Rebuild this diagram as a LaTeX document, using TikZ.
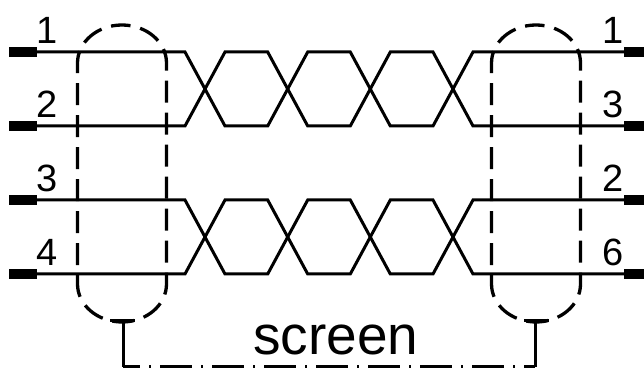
\documentclass[tikz,border=0pt]{standalone}
\usepackage{fontspec}
\setmainfont{Liberation Sans}
\begin{document}
\begin{tikzpicture}[x=1pt,y=1pt,
  wire/.style={line width=3pt,line join=miter},
  term/.style={line width=10.5pt},
  shield/.style={line width=3.3pt,dash pattern=on 22pt off 10pt,dash phase=11pt},
  screenline/.style={line width=3pt,dash pattern=on 32pt off 9pt on 2pt off 9pt,dash phase=15pt},
  bracket/.style={line width=3pt},
  pin/.style={font=\fontsize{38}{38}\selectfont,inner sep=0pt,anchor=base west},
  screenlbl/.style={font=\fontsize{55}{55}\selectfont,inner sep=0pt,anchor=base},
]
\useasboundingbox (0,0) rectangle (644,371);

% wire levels
\def\ya{319}\def\yb{245}\def\yc{171}\def\yd{97}

% terminal stubs
\foreach \y/\n in {\ya/1,\yb/2,\yc/3,\yd/4}{
  \coordinate (TL\n) at (9,\y);
  \coordinate (L\n) at (37,\y);
  \coordinate (R\n) at (624,\y);
  \coordinate (TR\n) at (646,\y);
  \draw[term] (TL\n) -- (L\n);
  \draw[term] (R\n) -- (TR\n);
}

% twisted pairs
\foreach \top/\bot/\a/\b in {\ya/\yb/1/2,\yc/\yd/3/4}{
  \draw[wire] (L\a) -- (185,\top) -- (225,\bot) -- (267.7,\bot) -- (307.7,\top)
     -- (350.3,\top) -- (390.3,\bot) -- (433,\bot) -- (473,\top) -- (R\a);
  \draw[wire] (L\b) -- (185,\bot) -- (225,\top) -- (267.7,\top) -- (307.7,\bot)
     -- (350.3,\bot) -- (390.3,\top) -- (433,\top) -- (473,\bot) -- (R\b);
}

% pin labels
\node[pin] (pl1) at (36,327) {1};
\node[pin] (pl2) at (36,253) {2};
\node[pin] (pl3) at (36,179) {3};
\node[pin] (pl4) at (36,105) {4};
\node[pin] (pr1) at (602,327) {1};
\node[pin] (pr3) at (602,253) {3};
\node[pin] (pr2) at (602,179) {2};
\node[pin] (pr6) at (602,105) {6};

% shields
\foreach \cx in {122,536}{
  \draw[shield] (\cx,346) arc[start angle=90,end angle=180,x radius=44.5,y radius=38]
     -- (\cx-44.5,87) arc[start angle=180,end angle=360,x radius=44.5,y radius=38]
     -- (\cx+44.5,308) arc[start angle=0,end angle=90,x radius=44.5,y radius=38];
}

% screen bracket
\coordinate (bl) at (123,4);
\coordinate (br) at (535,4);
\draw[bracket] (110,50) -- (135,50);
\draw[bracket] (524,50) -- (549,50);
\draw[bracket] (123,50) -- (bl);
\draw[bracket] (535,50) -- (br);
\draw[screenline] (bl) -- (br);

\node[screenlbl] (scr) at (336,16) {screen};
\end{tikzpicture}
\end{document}
